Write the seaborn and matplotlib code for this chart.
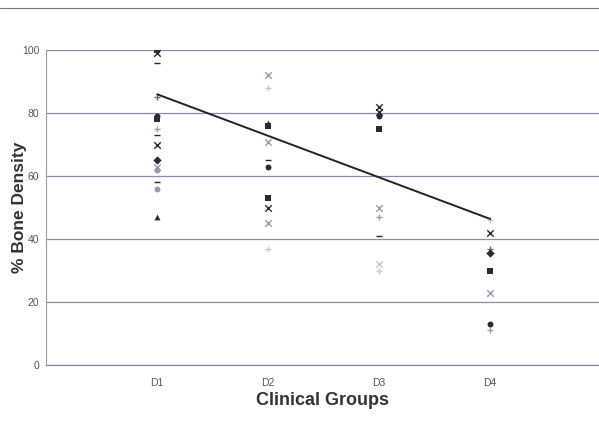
import numpy as np
import pandas as pd
import matplotlib
matplotlib.use("Agg")
import matplotlib.pyplot as plt
import seaborn as sns
from matplotlib.lines import Line2D

# -------------------------------
# data
# -------------------------------
groups = ["D1", "D2", "D3", "D4"]

d1_values = [100, 99, 96, 85, 79, 78, 75, 73, 70, 65, 63, 62, 58, 56, 47]
d1_markers = ["s", "x", "_", "+", "o", "s", "+", "_", "x", "D", "x", "o", "_", "o", "^"]
d1_shade = ["dark", "dark", "dark", "mid", "dark", "dark", "light", "dark", "dark", "dark",
            "light", "light", "dark", "light", "dark"]

d2_values = [92, 88, 77, 76, 71, 65, 63, 53, 50, 45, 37]
d2_markers = ["x", "+", "^", "s", "x", "_", "o", "s", "x", "x", "+"]
d2_shade = ["light", "faint", "dark", "dark", "light", "dark", "dark", "dark", "dark", "light", "faint"]

d3_values = [82, 80.5, 79, 75, 50, 47, 41, 32, 30]
d3_markers = ["x", "x", "o", "s", "x", "+", "_", "x", "+"]
d3_shade = ["dark", "dark", "dark", "dark", "light", "light", "dark", "faint", "faint"]

d4_values = [46, 42, 37, 35.5, 30, 23, 13, 11]
d4_markers = ["+", "x", "+", "D", "s", "x", "o", "+"]
d4_shade = ["faint", "dark", "mid", "dark", "dark", "light", "dark", "light"]

# trend line read at each group
trend_values = [86, 72.8, 59.6, 46.4]

rows = []
for i, (vals, mks, shs) in enumerate([(d1_values, d1_markers, d1_shade),
                                       (d2_values, d2_markers, d2_shade),
                                       (d3_values, d3_markers, d3_shade),
                                       (d4_values, d4_markers, d4_shade)]):
    for v, m, s in zip(vals, mks, shs):
        rows.append({"group": groups[i], "pos": i + 1, "value": v, "marker": m, "shade": s})
df = pd.DataFrame(rows)

shade_colors = {"dark": "#2a2a30", "mid": "#6a6a80", "light": "#9a9ab0", "faint": "#c8c8d4"}

# -------------------------------
# plot
# -------------------------------
sns.set_theme(style="white")
plt.rcParams["font.family"] = ["Liberation Sans", "DejaVu Sans"]

fig = plt.figure(figsize=(5.99, 4.29), dpi=100)
ax = fig.add_axes([0.077, 0.149, 0.923, 0.734])

for (m, s), sub in df.groupby(["marker", "shade"]):
    size = 18 if m in ["s", "o", "D", "^"] else 22
    sns.scatterplot(data=sub, x="pos", y="value", marker=m, color=shade_colors[s],
                    s=size, linewidth=1.0 if m in ["x", "+", "_"] else 0,
                    ax=ax, legend=False, zorder=3)

sns.lineplot(x=[1, 2, 3, 4], y=trend_values, color="#222222", linewidth=1.4, ax=ax, zorder=4)

ax.set_xlim(0, 4.98)
ax.set_ylim(0, 100)
ax.set_yticks([0, 20, 40, 60, 80, 100])
ax.set_xticks([1, 2, 3, 4])
ax.set_xticklabels(groups)
ax.yaxis.grid(True, color="#8a8ea8", linewidth=0.9)
ax.xaxis.grid(False)

for side in ["top", "right"]:
    ax.spines[side].set_visible(False)
ax.spines["left"].set_color("#9a9aaa")
ax.spines["bottom"].set_color("#8a8ea8")
ax.spines["left"].set_linewidth(0.8)
ax.spines["bottom"].set_linewidth(0.9)

ax.tick_params(axis="both", labelsize=7.5, colors="#555555", length=3, width=0.6,
               direction="out", pad=2)
ax.tick_params(axis="x", pad=6)

ax.set_xlabel("Clinical Groups", fontsize=13, fontweight="bold", color="#333333", labelpad=3)
ax.set_ylabel("% Bone Density", fontsize=12.5, fontweight="bold", color="#333333")
ax.yaxis.set_label_coords(-0.034, 0.5)

# scan border line across the top
fig.add_artist(Line2D([0, 1], [0.982, 0.982], color="#777777", linewidth=0.8,
                      transform=fig.transFigure))

fig.savefig("out.png", dpi=100, facecolor="white")
